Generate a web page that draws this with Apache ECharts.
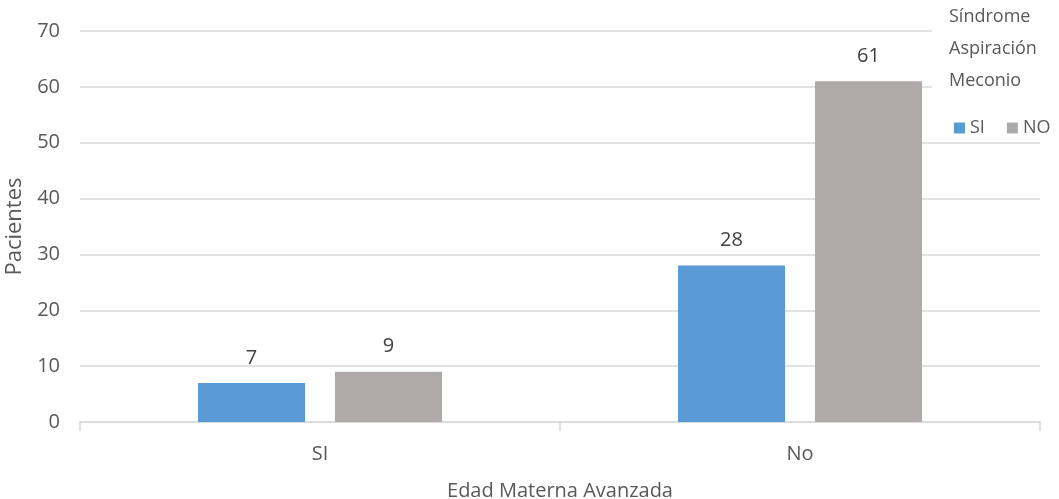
<!DOCTYPE html>
<html>
<head>
<meta charset="utf-8">
<script src="https://cdn.jsdelivr.net/npm/echarts@6/dist/echarts.min.js"></script>
<style>
  html, body { margin: 0; padding: 0; background: #ffffff; }
  #chart { width: 1059px; height: 499px; }
</style>
</head>
<body>
<div id="chart"></div>
<script>
// Categories along the x axis (Edad Materna Avanzada)
const categories = ['SI', 'No'];
// Patients with Síndrome Aspiración Meconio = SI / NO
const seriesSI = [7, 28];
const seriesNO = [9, 61];
const seriesNames = ['SI', 'NO'];
const legendTitle = 'Síndrome\nAspiración\nMeconio';

const FONT = '"Open Sans", "Noto Sans", sans-serif';
const TEXT = '#595959';

const chart = echarts.init(document.getElementById('chart'), null, { renderer: 'canvas' });

const labelStyle = {
  show: true,
  position: 'top',
  distance: 15,
  color: '#404040',
  fontFamily: FONT,
  fontSize: 20
};

chart.setOption({
  animation: false,
  backgroundColor: '#ffffff',
  textStyle: { fontFamily: FONT },
  grid: {
    left: 80, right: 19, top: 31, bottom: 77,
    containLabel: false,
    outerBoundsMode: 'none'
  },
  title: {
    text: legendTitle,
    left: 949,
    top: 1,
    padding: 0,
    z: 8,
    textStyle: { color: TEXT, fontFamily: FONT, fontSize: 18, fontWeight: 'normal', lineHeight: 32 }
  },
  graphic: [{
    type: 'rect',
    left: 932,
    top: 0,
    z: 3,
    shape: { width: 127, height: 137 },
    style: { fill: '#ffffff' }
  }],
  legend: {
    data: seriesNames,
    orient: 'horizontal',
    left: 954,
    top: 119,
    width: 105,
    padding: 0,
    icon: 'rect',
    itemWidth: 11,
    itemHeight: 11,
    itemGap: 22,
    z: 8,
    textStyle: { color: TEXT, fontFamily: FONT, fontSize: 18 }
  },
  xAxis: {
    type: 'category',
    data: categories,
    axisLine: { lineStyle: { color: '#d9d9d9', width: 1.5 } },
    axisTick: { show: true, length: 9, lineStyle: { color: '#d9d9d9', width: 1.5 } },
    axisLabel: { color: TEXT, fontFamily: FONT, fontSize: 20, margin: 22 },
    name: 'Edad Materna Avanzada',
    nameLocation: 'middle',
    nameGap: 59,
    nameTextStyle: { color: TEXT, fontFamily: FONT, fontSize: 20 }
  },
  yAxis: {
    type: 'value',
    min: 0,
    max: 70,
    interval: 10,
    axisLine: { show: false },
    axisTick: { show: false },
    splitLine: { lineStyle: { color: '#d9d9d9', width: 1.5 } },
    axisLabel: { color: TEXT, fontFamily: FONT, fontSize: 20, margin: 20 },
    name: 'Pacientes',
    nameLocation: 'middle',
    nameRotate: 90,
    nameGap: 47,
    nameTextStyle: { color: TEXT, fontFamily: FONT, fontSize: 22 }
  },
  series: [
    {
      name: seriesNames[0],
      type: 'bar',
      data: seriesSI,
      barWidth: 107,
      barGap: '28%',
      itemStyle: { color: '#5B9BD5' },
      label: labelStyle
    },
    {
      name: seriesNames[1],
      type: 'bar',
      data: seriesNO,
      barWidth: 107,
      barGap: '28%',
      itemStyle: { color: '#AEAAAA' },
      label: labelStyle
    }
  ]
});
</script>
</body>
</html>
